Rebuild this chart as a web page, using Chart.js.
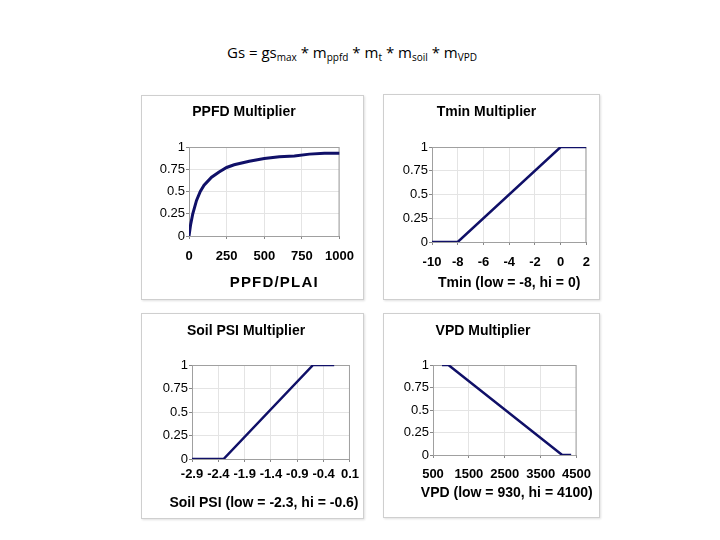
<!DOCTYPE html>
<html>
<head>
<meta charset="utf-8">
<script src="https://cdn.jsdelivr.net/npm/chart.js@4"></script>
<style>
body { margin: 0; width: 720px; height: 540px; background: #fff; position: relative; overflow: hidden; }
.frame { position: absolute; box-sizing: border-box; border: 1px solid #cfcfcf; box-shadow: 1px 1px 2px rgba(0,0,0,0.12); background: #fff; }
canvas { position: absolute; }
#heading { position: absolute; left: 0; width: 704px; top: 42px; text-align: center; font: 15px "Open Sans", "Liberation Sans", Arial, sans-serif; color: #000; }
#heading sub { font-size: 10px; vertical-align: -3px; line-height: 0; }
</style>
</head>
<body>
<div id="heading">Gs = gs<sub>max</sub> * m<sub>ppfd</sub> * m<sub>t</sub> * m<sub>soil</sub> * m<sub>VPD</sub></div>

<div class="frame" style="left:141px;top:95px;width:223px;height:205px"></div>
<div class="frame" style="left:383px;top:94px;width:217px;height:206px"></div>
<div class="frame" style="left:141px;top:313px;width:223px;height:206px"></div>
<div class="frame" style="left:383px;top:313px;width:217px;height:205px"></div>

<canvas id="ppfdChart" width="223" height="205" style="left:141px;top:95px"></canvas>
<canvas id="tminChart" width="217" height="206" style="left:383px;top:94px"></canvas>
<canvas id="soilChart" width="223" height="206" style="left:141px;top:313px"></canvas>
<canvas id="vpdChart" width="217" height="205" style="left:383px;top:313px"></canvas>

<script>
// values
const ppfdX = [0, 10, 25, 50, 75, 100, 150, 200, 250, 300, 400, 500, 600, 700, 800, 900, 1000];
const ppfdY = [0, 0.12, 0.25, 0.40, 0.50, 0.57, 0.66, 0.72, 0.77, 0.80, 0.84, 0.87, 0.89, 0.90, 0.92, 0.93, 0.93];
const tminX = [-10, -8, 0, 2];
const tminY = [0, 0, 1, 1];
const soilX = [-2.9, -2.3, -0.6, -0.2];
const soilY = [0, 0, 1, 1];
const vpdX = [750, 930, 4100, 4350];
const vpdY = [1, 1, 0, 0];

// tick labels
const yTicks = [0, 0.25, 0.5, 0.75, 1];
const ppfdTicks = [0, 250, 500, 750, 1000];
const tminTicks = [-10, -8, -6, -4, -2, 0, 2];
const soilTicks = [-2.9, -2.4, -1.9, -1.4, -0.9, -0.4, 0.1];
const vpdTicks = [500, 1500, 2500, 3500, 4500];

Chart.defaults.font.family = '"Liberation Sans", Arial, sans-serif';
Chart.defaults.color = '#000';

const plotBorder = {
    id: 'plotBorder',
    beforeDatasetsDraw(chart) {
        const a = chart.chartArea;
        const c = chart.ctx;
        c.save();
        c.strokeStyle = '#a0a0a0';
        c.lineWidth = 1;
        c.strokeRect(a.left + 0.5, a.top + 0.5, a.right - a.left - 1, a.bottom - a.top);
        c.restore();
    }
};

// x axis title drawn without the scale's maxWidth squeeze
const axisTitle = {
    id: 'axisTitle',
    afterDraw(chart, args, opts) {
        const a = chart.chartArea;
        const c = chart.ctx;
        c.save();
        c.font = 'bold ' + opts.size + 'px "Liberation Sans", Arial, sans-serif';
        c.letterSpacing = opts.ls + 'px';
        c.fillStyle = '#000';
        c.textAlign = 'center';
        c.textBaseline = 'middle';
        c.fillText(opts.text, (a.left + a.right) / 2 + opts.dx, chart.scales.x.bottom - opts.off);
        c.restore();
    }
};

function makeChart(id, xs, ys, xTicks, title, xTitle, g) {
    const ctx = document.getElementById(id).getContext('2d');
    new Chart(ctx, {
        type: 'scatter',
        data: {
            datasets: [{
                data: xs.map((x, i) => ({ x: x, y: ys[i] })),
                showLine: true,
                borderColor: '#101068',
                borderWidth: g.lw,
                pointRadius: 0,
                tension: 0
            }]
        },
        options: {
            responsive: false,
            animation: false,
            layout: { padding: { top: g.pt, right: g.pr, left: 0, bottom: 0 } },
            plugins: {
                legend: { display: false },
                tooltip: { enabled: false },
                title: {
                    display: true,
                    text: title,
                    font: { size: 14, weight: 'bold' },
                    padding: { top: 0, bottom: g.tb }
                },
                axisTitle: { text: xTitle, dx: g.dx, off: g.xto, size: g.xfs, ls: g.ls }
            },
            scales: {
                x: {
                    type: 'linear',
                    min: xTicks[0],
                    max: xTicks[xTicks.length - 1],
                    afterBuildTicks: s => { s.ticks = xTicks.map(v => ({ value: v })); },
                    afterFit: s => { s.height = g.xh; },
                    ticks: {
                        autoSkip: false, maxRotation: 0, padding: g.xtp,
                        font: { size: 13, weight: 'bold' },
                        callback: v => String(v)
                    },
                    grid: { color: '#e4e4e4', tickLength: 3, tickColor: '#888' },
                    border: { color: '#888' }
                },
                y: {
                    min: 0,
                    max: 1,
                    afterBuildTicks: s => { s.ticks = yTicks.map(v => ({ value: v })); },
                    afterFit: s => { s.width = g.yw; },
                    ticks: {
                        padding: 1,
                        font: { size: 13 },
                        callback: v => String(v)
                    },
                    grid: { color: '#e4e4e4', tickLength: 3, tickColor: '#888' },
                    border: { color: '#888' }
                }
            }
        },
        plugins: [plotBorder, axisTitle]
    });
}

makeChart('ppfdChart', ppfdX, ppfdY, ppfdTicks, 'PPFD Multiplier', 'PPFD/PLAI',
    { pt: 8.6, tb: 26.6, yw: 48, xh: 64, pr: 17, xtp: 10, xto: 17.3, dx: 10, xfs: 15, ls: 1.2, lw: 3 });
makeChart('tminChart', tminX, tminY, tminTicks, 'Tmin Multiplier', 'Tmin (low = -8, hi = 0)',
    { pt: 9.3, tb: 26.9, yw: 49, xh: 58, pr: 10, xtp: 10, xto: 17, dx: 0, xfs: 14, ls: 0, lw: 2.5 });
makeChart('soilChart', soilX, soilY, soilTicks, 'Soil PSI Multiplier', 'Soil PSI (low = -2.3, hi = -0.6)',
    { pt: 9.3, tb: 25.9, yw: 51, xh: 60, pr: 13, xtp: 5, xto: 16, dx: -7, xfs: 14, ls: 0, lw: 2.5 });
makeChart('vpdChart', vpdX, vpdY, vpdTicks, 'VPD Multiplier', 'VPD (low = 930, hi = 4100)',
    { pt: 9.3, tb: 25.9, yw: 50, xh: 63, pr: 17, xtp: 9, xto: 25.3, dx: 2, xfs: 14, ls: 0, lw: 2.5 });
</script>
</body>
</html>
